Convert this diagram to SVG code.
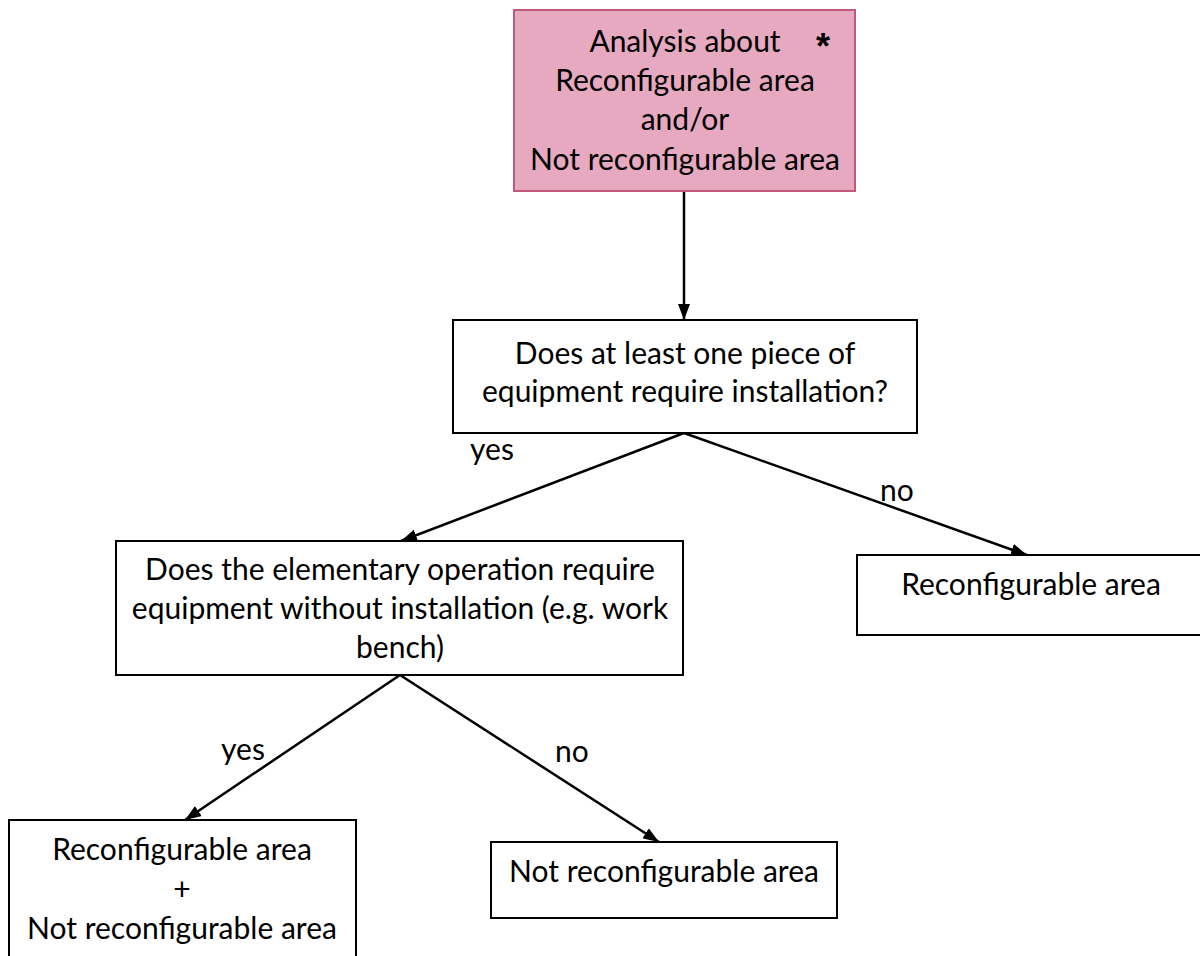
<svg xmlns="http://www.w3.org/2000/svg" width="1200" height="956" viewBox="0 0 1200 956">
  <defs>
    <marker id="arrow" viewBox="0 0 16 12" refX="16" refY="6" markerWidth="16" markerHeight="12" markerUnits="userSpaceOnUse" orient="auto">
      <path d="M0,0 L16,6 L0,12 Z" fill="#000"/>
    </marker>
    <style>
      .box { fill: #fff; stroke: #000; stroke-width: 2; }
      .start { fill: #e6a9c0; stroke: #c0587a; stroke-width: 2; }
      text { font-family: Lato, "Liberation Sans", sans-serif; font-size: 30px; fill: #000; text-anchor: middle; dominant-baseline: central; }
      .star { font-family: "Liberation Sans", sans-serif; font-weight: bold; font-size: 36px; dominant-baseline: auto; }
      .edge { stroke: #000; stroke-width: 2.5; fill: none; marker-end: url(#arrow); }
    </style>
  </defs>

  <rect width="1200" height="956" fill="#fff"/>

  <g id="connectors">
    <line class="edge" x1="684" y1="192" x2="684" y2="320"/>
    <line class="edge" x1="684" y1="433" x2="401" y2="541"/>
    <line class="edge" x1="684" y1="433" x2="1027" y2="555"/>
    <line class="edge" x1="400" y1="675" x2="185" y2="820"/>
    <line class="edge" x1="400" y1="675" x2="659" y2="842"/>
    <text x="492" y="448">yes</text>
    <text x="897" y="489">no</text>
    <text x="243" y="748">yes</text>
    <text x="572" y="750">no</text>
  </g>

  <g id="analysis">
    <rect class="start" x="514" y="10" width="341" height="181"/>
    <text x="685" y="40">Analysis about</text>
    <text class="star" x="823" y="59">*</text>
    <text x="685" y="79">Reconfigurable area</text>
    <text x="685" y="118">and/or</text>
    <text x="685" y="158">Not reconfigurable area</text>
  </g>

  <g id="q-installation">
    <rect class="box" x="453" y="320" width="464" height="113"/>
    <text x="685" y="352">Does at least one piece of</text>
    <text x="685" y="390">equipment require installation?</text>
  </g>

  <g id="q-elementary">
    <rect class="box" x="116" y="541" width="567" height="134"/>
    <text x="400" y="568">Does the elementary operation require</text>
    <text x="400" y="607">equipment without installation (e.g. work</text>
    <text x="400" y="646">bench)</text>
  </g>

  <g id="reconfigurable">
    <rect class="box" x="857" y="555" width="345" height="80"/>
    <text x="1031" y="583">Reconfigurable area</text>
  </g>

  <g id="both">
    <rect class="box" x="9" y="820" width="347" height="137"/>
    <text x="182" y="848">Reconfigurable area</text>
    <text x="182" y="888">+</text>
    <text x="182" y="927">Not reconfigurable area</text>
  </g>

  <g id="not-reconfigurable">
    <rect class="box" x="491" y="842" width="346" height="76"/>
    <text x="664" y="870">Not reconfigurable area</text>
  </g>
</svg>
